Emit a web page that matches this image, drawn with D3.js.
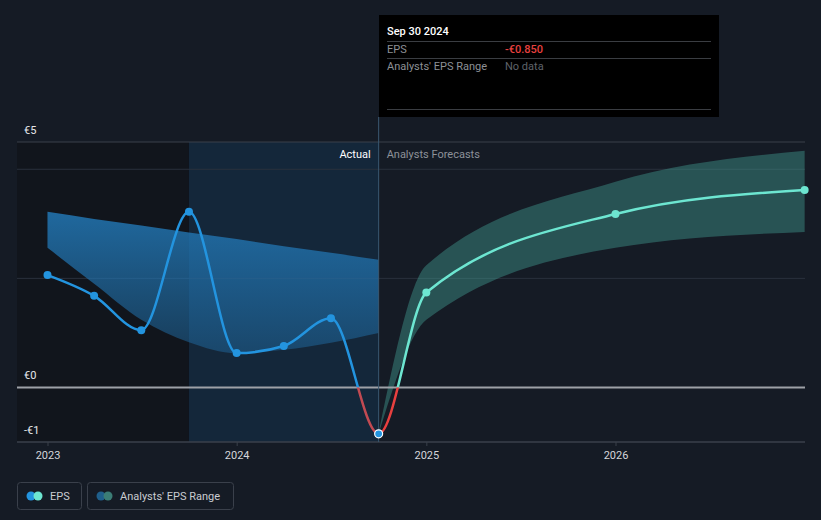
<!DOCTYPE html>
<html>
<head>
<meta charset="utf-8">
<script src="https://cdn.jsdelivr.net/npm/d3@7"></script>
<style>
  html, body { margin: 0; padding: 0; background: #151b25; }
  svg { display: block; font-family: Roboto, "Noto Sans", sans-serif; }
</style>
</head>
<body>
<svg id="chart" width="821" height="520"></svg>
<script>
// ---- data ----
const actualDates = ["2022-12-31","2023-03-31","2023-06-30","2023-09-30","2023-12-31","2024-03-31","2024-06-30","2024-09-30"];
const actualEPS   = [2.06, 1.68, 1.05, 3.22, 0.63, 0.76, 1.27, -0.85];
const pastRangeHigh = [3.22, 3.09, 2.97, 2.84, 2.72, 2.59, 2.47, 2.34];
const pastRangeLow  = [2.56, 1.90, 1.24, 0.83, 0.63, 0.69, 0.82, 1.00];

const forecastDates = ["2024-09-30","2024-12-31","2025-12-31","2026-12-31"];
const forecastEPS   = [-0.85, 1.74, 3.18, 3.62];
const forecastLow   = [-0.85, 1.24, 2.56, 2.85];
const forecastHigh  = [-0.85, 2.24, 3.77, 4.34];

const xTickYears = ["2023","2024","2025","2026"];
const yTickLabels = [{v: 4.5, t: "€5"}, {v: 0, t: "€0"}, {v: -1, t: "-€1"}];
const yGrid = [2, 4];

const tooltipDate = "Sep 30 2024";
const tooltipEPS = "-€0.850";
const tooltipRange = "No data";

// ---- scales ----
const parse = d3.timeParse("%Y-%m-%d");
const pLeft = 17, pRight = 805, pTop = 142, pBottom = 442;
const x = d3.scaleTime().domain([parse("2023-01-01"), parse("2026-01-01")]).range([48, 616]);
const y = d3.scaleLinear().domain([-1, 4.5]).range([pBottom, pTop]);

const actual = actualDates.map((d, i) => ({date: parse(d), v: actualEPS[i], lo: pastRangeLow[i], hi: pastRangeHigh[i]}));
const forecast = forecastDates.map((d, i) => ({date: parse(d), v: forecastEPS[i], lo: forecastLow[i], hi: forecastHigh[i]}));
const combined = actual.concat(forecast.slice(1));

const svg = d3.select("#chart");
const defs = svg.append("defs");

const lastDate = actual[actual.length - 1].date;
const oneYearBefore = parse("2023-09-30");
const xNow = x(lastDate);

// background regions
svg.append("rect").attr("x", pLeft).attr("y", pTop).attr("width", x(oneYearBefore) - pLeft).attr("height", pBottom - pTop).attr("fill", "#11151c");
svg.append("rect").attr("x", x(oneYearBefore)).attr("y", pTop).attr("width", xNow - x(oneYearBefore)).attr("height", pBottom - pTop).attr("fill", "#14273a");

// gridlines
yGrid.forEach(v => {
  svg.append("line").attr("x1", pLeft).attr("x2", pRight).attr("y1", y(v)).attr("y2", y(v)).attr("stroke", "#2a313d").attr("stroke-width", 1);
});
svg.append("line").attr("x1", pLeft).attr("x2", pRight).attr("y1", pTop).attr("y2", pTop).attr("stroke", "#3a404b").attr("stroke-width", 1);

// past range band
const grad = defs.append("linearGradient").attr("id", "pastGrad").attr("x1", 0).attr("x2", 0).attr("y1", 0).attr("y2", 1);
grad.append("stop").attr("offset", "0%").attr("stop-color", "#2277b5").attr("stop-opacity", 0.85);
grad.append("stop").attr("offset", "100%").attr("stop-color", "#2277b5").attr("stop-opacity", 0.4);
const area = d3.area().x(d => x(d.date)).y0(d => y(d.lo)).y1(d => y(d.hi)).curve(d3.curveMonotoneX);
svg.append("path").datum(actual).attr("d", area).attr("fill", "url(#pastGrad)");

// forecast band
svg.append("path").datum(forecast).attr("d", area).attr("fill", "#47a89c").attr("fill-opacity", 0.4);

// zero line
svg.append("line").attr("x1", pLeft).attr("x2", pRight).attr("y1", y(0)).attr("y2", y(0)).attr("stroke", "#9ea1a7").attr("stroke-width", 2);

// x axis
svg.append("line").attr("x1", pLeft).attr("x2", pRight).attr("y1", pBottom).attr("y2", pBottom).attr("stroke", "#3a404b").attr("stroke-width", 1.5);
xTickYears.forEach(yr => {
  const xx = x(parse(yr + "-01-01"));
  svg.append("line").attr("x1", xx).attr("x2", xx).attr("y1", pBottom).attr("y2", pBottom + 4).attr("stroke", "#3a404b");
  svg.append("text").attr("x", xx).attr("y", 459).attr("text-anchor", "middle").attr("fill", "#d4d6da").attr("font-size", 11).text(yr);
});

// y labels
yTickLabels.forEach(t => {
  svg.append("text").attr("x", 24).attr("y", y(t.v) - 8).attr("fill", "#e6e7ea").attr("font-size", 11).text(t.t);
});

// now line
svg.append("line").attr("x1", xNow).attr("x2", xNow).attr("y1", 117).attr("y2", pBottom).attr("stroke", "#3a5870").attr("stroke-width", 1);

// section labels
svg.append("text").attr("x", xNow - 8).attr("y", 158).attr("text-anchor", "end").attr("fill", "#ffffff").attr("font-size", 11).text("Actual");
svg.append("text").attr("x", xNow + 8).attr("y", 158).attr("fill", "#8d9199").attr("font-size", 11).text("Analysts Forecasts");

// clips for sign/period colouring
const y0 = y(0);
function addClip(id, x0, x1, yA, yB) {
  defs.append("clipPath").attr("id", id).append("rect").attr("x", x0).attr("y", yA).attr("width", x1 - x0).attr("height", yB - yA);
}
addClip("pastPos", 0, xNow, 0, y0);
addClip("pastNeg", 0, xNow, y0, 520);
addClip("futPos", xNow, 821, 0, y0);
addClip("futNeg", xNow, 821, y0, 520);

const line = d3.line().x(d => x(d.date)).y(d => y(d.v)).curve(d3.curveMonotoneX);
[["pastPos", "#2394df"], ["pastNeg", "#c24a52"], ["futPos", "#6de6d1"], ["futNeg", "#e8403f"]].forEach(([clip, col]) => {
  svg.append("path").datum(combined).attr("d", line).attr("fill", "none").attr("stroke", col)
    .attr("stroke-width", 2.5).attr("clip-path", `url(#${clip})`);
});

// markers
svg.selectAll("circle.act").data(actual.slice(0, -1)).enter().append("circle")
  .attr("cx", d => x(d.date)).attr("cy", d => y(d.v)).attr("r", 4).attr("fill", "#2394df");
svg.selectAll("circle.fc").data(forecast.slice(1)).enter().append("circle")
  .attr("cx", d => x(d.date)).attr("cy", d => y(d.v)).attr("r", 4).attr("fill", "#6de6d1");
const last = actual[actual.length - 1];
svg.append("circle").attr("cx", x(last.date)).attr("cy", y(last.v)).attr("r", 4).attr("fill", "#2394df").attr("stroke", "#ffffff").attr("stroke-width", 1.2);

// tooltip
const tt = svg.append("g");
tt.append("rect").attr("x", 379).attr("y", 15).attr("width", 340).attr("height", 102).attr("fill", "#000000");
tt.append("text").attr("x", 387).attr("y", 35).attr("fill", "#ffffff").attr("font-size", 11).attr("font-weight", 500).text(tooltipDate);
tt.append("line").attr("x1", 387).attr("x2", 711).attr("y1", 41.5).attr("y2", 41.5).attr("stroke", "#3a3d42");
tt.append("text").attr("x", 387).attr("y", 53).attr("fill", "#8d9096").attr("font-size", 11).text("EPS");
tt.append("text").attr("x", 505).attr("y", 53).attr("fill", "#e8403f").attr("font-size", 11).attr("font-weight", 500).text(tooltipEPS);
tt.append("line").attr("x1", 387).attr("x2", 711).attr("y1", 58.5).attr("y2", 58.5).attr("stroke", "#3a3d42");
tt.append("text").attr("x", 387).attr("y", 70).attr("fill", "#8d9096").attr("font-size", 11).text("Analysts' EPS Range");
tt.append("text").attr("x", 505).attr("y", 70).attr("fill", "#5f636a").attr("font-size", 11).text(tooltipRange);
tt.append("line").attr("x1", 387).attr("x2", 711).attr("y1", 109.5).attr("y2", 109.5).attr("stroke", "#3a3d42");

// legend
const legendItems = [
  {label: "EPS", x: 17, w: 64, c1: "#2394df", c2: "#6de6d1"},
  {label: "Analysts' EPS Range", x: 87, w: 146, c1: "#1f5f8c", c2: "#3b7d76"}
];
legendItems.forEach(it => {
  const g = svg.append("g");
  g.append("rect").attr("x", it.x + 0.5).attr("y", 482.5).attr("width", it.w).attr("height", 27).attr("rx", 3)
    .attr("fill", "none").attr("stroke", "#3a404b");
  g.append("circle").attr("cx", it.x + 14).attr("cy", 496).attr("r", 4.5).attr("fill", it.c1);
  g.append("circle").attr("cx", it.x + 21).attr("cy", 496).attr("r", 4.5).attr("fill", it.c2);
  g.append("text").attr("x", it.x + 33).attr("y", 500).attr("fill", "#c9ccd1").attr("font-size", 11).text(it.label);
});
</script>
</body>
</html>
